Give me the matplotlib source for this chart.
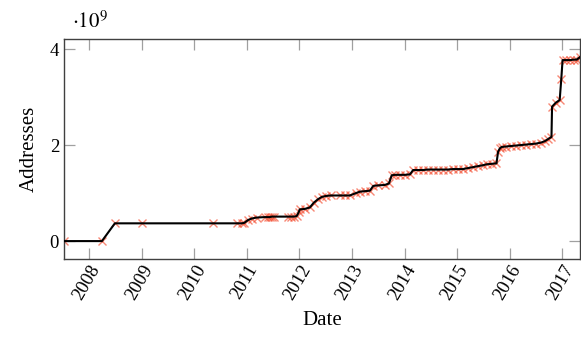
import numpy as np
import pandas as pd
import matplotlib
matplotlib.use("Agg")
import matplotlib.pyplot as plt
import matplotlib.dates as mdates

plt.rcParams['font.family'] = ['Liberation Serif', 'DejaVu Serif']
plt.rcParams['mathtext.fontset'] = 'stix'

# observation dates and address counts (in 1e9)
dates = ["2007-07-11", "2008-03-31", "2008-06-29", "2009-01-04", "2010-05-14",
         "2010-10-24", "2010-11-28", "2010-12-15", "2011-01-11", "2011-02-05",
         "2011-03-10", "2011-05-06", "2011-05-27", "2011-06-10", "2011-06-24",
         "2011-07-08", "2011-10-13", "2011-11-03", "2011-11-23", "2011-12-14",
         "2011-12-28", "2012-01-04", "2012-02-08", "2012-03-14", "2012-04-11",
         "2012-05-09", "2012-06-06", "2012-07-04", "2012-08-07", "2012-10-09",
         "2012-11-12", "2012-12-17", "2013-01-29", "2013-02-26", "2013-04-01",
         "2013-05-06", "2013-05-29", "2013-06-30", "2013-08-18", "2013-09-15",
         "2013-10-04", "2013-10-26", "2013-11-30", "2014-01-04", "2014-02-08",
         "2014-03-02", "2014-04-04", "2014-05-09", "2014-06-12", "2014-07-17",
         "2014-08-21", "2014-09-24", "2014-10-29", "2014-12-03", "2015-01-06",
         "2015-02-10", "2015-03-17", "2015-04-21", "2015-05-25", "2015-06-29",
         "2015-07-27", "2015-08-31", "2015-10-02", "2015-10-13", "2015-10-25",
         "2015-11-06", "2015-12-06", "2016-01-09", "2016-02-13", "2016-03-19",
         "2016-04-22", "2016-05-27", "2016-07-01", "2016-08-04", "2016-09-01",
         "2016-09-22", "2016-10-18", "2016-10-22", "2016-11-16", "2016-12-14",
         "2016-12-25", "2017-01-03", "2017-01-26", "2017-02-23", "2017-03-23",
         "2017-04-12", "2017-05-03"]
addresses = [0.00, 0.00, 0.37, 0.37, 0.37,
             0.37, 0.37, 0.38, 0.44, 0.47,
             0.49, 0.50, 0.50, 0.50, 0.51,
             0.51, 0.51, 0.51, 0.51, 0.52,
             0.60, 0.66, 0.67, 0.70, 0.80,
             0.87, 0.92, 0.94, 0.95, 0.95,
             0.95, 0.95, 1.00, 1.03, 1.04,
             1.05, 1.15, 1.16, 1.17, 1.20,
             1.37, 1.38, 1.38, 1.38, 1.39,
             1.48, 1.48, 1.48, 1.49, 1.49,
             1.49, 1.49, 1.49, 1.50, 1.50,
             1.50, 1.52, 1.54, 1.56, 1.58,
             1.60, 1.61, 1.62, 1.86, 1.93,
             1.96, 1.97, 1.98, 1.99, 2.00,
             2.01, 2.02, 2.03, 2.05, 2.08,
             2.12, 2.17, 2.80, 2.88, 2.94,
             3.37, 3.77, 3.77, 3.77, 3.78,
             3.78, 3.83]

df = pd.DataFrame({"date": pd.to_datetime(dates), "addr": np.array(addresses) * 1e9})

fig = plt.figure(figsize=(5.81, 3.45), dpi=100)
ax = fig.add_axes([0.110, 0.249, 0.888, 0.638])

ax.plot(df["date"], df["addr"], linestyle='none', marker='x', ms=6, mew=1.0,
        color='#f4492c', alpha=0.65, zorder=2)
ax.plot(df["date"], df["addr"], color='black', lw=1.5, zorder=3)

ax.set_xlim(pd.Timestamp("2007-07-11"), pd.Timestamp("2017-05-03"))
ax.set_ylim(-0.375e9, 4.21e9)
ax.set_yticks([0, 2e9, 4e9])
ax.set_yticklabels(["0", "2", "4"])
ax.xaxis.set_major_locator(mdates.YearLocator())
ax.xaxis.set_major_formatter(mdates.DateFormatter("%Y"))

ax.tick_params(direction='in', length=8, width=0.9, color='#a0a0a0',
               top=True, right=True, labelsize=13.5)
ax.tick_params(axis='x', pad=2)
for lab in ax.get_xticklabels():
    lab.set_rotation(60)
    lab.set_ha('right')
    lab.set_va('top')
    lab.set_rotation_mode('anchor')
for s in ax.spines.values():
    s.set_color('#404040')
    s.set_linewidth(1.0)

ax.set_xlabel("Date", fontsize=15, labelpad=6)
ax.set_ylabel("Addresses", fontsize=15, labelpad=8)
ax.text(0.015, 1.03, r"$\cdot 10^9$", transform=ax.transAxes, fontsize=15,
        ha='left', va='bottom')

fig.savefig("out.png", dpi=100)
